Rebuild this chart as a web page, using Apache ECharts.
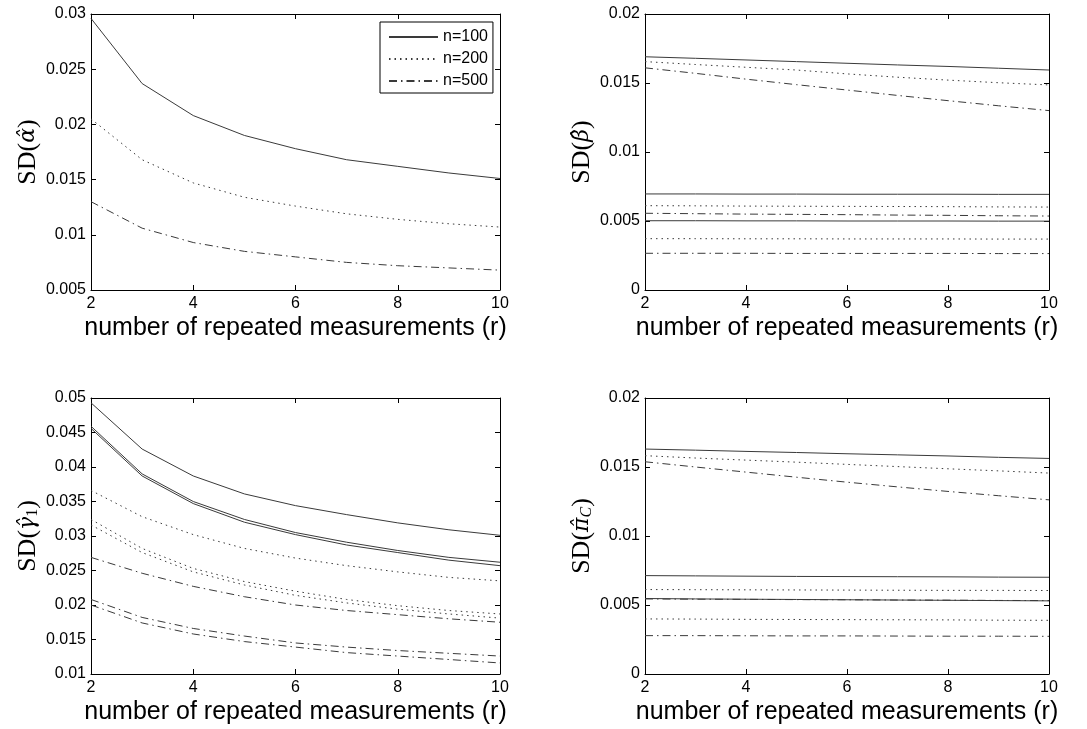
<!DOCTYPE html>
<html>
<head>
<meta charset="utf-8">
<script src="https://cdn.jsdelivr.net/npm/echarts@6/dist/echarts.min.js"></script>
<style>
  html, body { margin: 0; padding: 0; background: #fff; }
  #chart { width: 1087px; height: 729px; }
</style>
</head>
<body>
<div id="chart"></div>
<script>
// number of repeated measurements
const rVals = [2, 3, 4, 5, 6, 7, 8, 9, 10]

// SD(alpha hat)
const alpha100 = [0.0296, 0.0237, 0.0208, 0.0190, 0.0178, 0.0168, 0.0162, 0.0156, 0.0151]
const alpha200 = [0.0205, 0.0168, 0.0147, 0.0134, 0.0126, 0.0119, 0.0114, 0.0110, 0.0107]
const alpha500 = [0.0130, 0.0106, 0.0093, 0.0085, 0.0080, 0.0075, 0.0072, 0.0070, 0.0068]

// SD(beta hat), three coefficients
const beta100a = [0.01690, 0.01679, 0.01667, 0.01655, 0.01643, 0.01631, 0.01620, 0.01607, 0.01594]
const beta200a = [0.01655, 0.01634, 0.01614, 0.01594, 0.01566, 0.01542, 0.01521, 0.01502, 0.01486]
const beta500a = [0.01610, 0.01570, 0.01528, 0.01488, 0.01449, 0.01410, 0.01372, 0.01335, 0.01300]
const beta100b = [0.00696, 0.00696, 0.00695, 0.00695, 0.00694, 0.00694, 0.00694, 0.00693, 0.00693]
const beta200b = [0.00611, 0.00610, 0.00608, 0.00607, 0.00606, 0.00605, 0.00604, 0.00602, 0.00601]
const beta500b = [0.00556, 0.00553, 0.00550, 0.00548, 0.00546, 0.00543, 0.00541, 0.00538, 0.00536]
const beta100c = [0.00502, 0.00502, 0.00501, 0.00501, 0.00500, 0.00500, 0.00500, 0.00499, 0.00499]
const beta200c = [0.00372, 0.00372, 0.00371, 0.00371, 0.00370, 0.00370, 0.00370, 0.00369, 0.00369]
const beta500c = [0.00266, 0.00266, 0.00266, 0.00265, 0.00265, 0.00265, 0.00265, 0.00264, 0.00264]

// SD(gamma1 hat)
const gamma100a = [0.0493, 0.0426, 0.0387, 0.0361, 0.0344, 0.0331, 0.0319, 0.0309, 0.0301]
const gamma100b = [0.0459, 0.0390, 0.0350, 0.0324, 0.0305, 0.0291, 0.0279, 0.0269, 0.0262]
const gamma100c = [0.0456, 0.0387, 0.0347, 0.0320, 0.0302, 0.0287, 0.0276, 0.0265, 0.0257]
const gamma200a = [0.0366, 0.0328, 0.0302, 0.0282, 0.0268, 0.0257, 0.0248, 0.0240, 0.0235]
const gamma200b = [0.0324, 0.0282, 0.0253, 0.0234, 0.0220, 0.0208, 0.0199, 0.0192, 0.0187]
const gamma200c = [0.0316, 0.0276, 0.0248, 0.0229, 0.0214, 0.0203, 0.0194, 0.0187, 0.0181]
const gamma500a = [0.0269, 0.0246, 0.0227, 0.0212, 0.0200, 0.0192, 0.0186, 0.0180, 0.0175]
const gamma500b = [0.0208, 0.0182, 0.0166, 0.0155, 0.0145, 0.0139, 0.0134, 0.0130, 0.0126]
const gamma500c = [0.0200, 0.0174, 0.0158, 0.0147, 0.0139, 0.0131, 0.0126, 0.0121, 0.0116]

// SD(pi_C hat)
const pi100a = [0.01630, 0.01622, 0.01613, 0.01605, 0.01596, 0.01588, 0.01580, 0.01570, 0.01562]
const pi200a = [0.01582, 0.01565, 0.01550, 0.01535, 0.01519, 0.01503, 0.01487, 0.01472, 0.01456]
const pi500a = [0.01538, 0.01500, 0.01463, 0.01426, 0.01390, 0.01356, 0.01323, 0.01292, 0.01262]
const pi100b = [0.00713, 0.00711, 0.00709, 0.00707, 0.00706, 0.00705, 0.00704, 0.00702, 0.00701]
const pi200b = [0.00612, 0.00611, 0.00610, 0.00609, 0.00608, 0.00607, 0.00606, 0.00606, 0.00605]
const pi500b = [0.00544, 0.00542, 0.00541, 0.00539, 0.00538, 0.00536, 0.00535, 0.00533, 0.00532]
const pi100c = [0.00547, 0.00544, 0.00542, 0.00540, 0.00538, 0.00536, 0.00534, 0.00532, 0.00530]
const pi200c = [0.00399, 0.00398, 0.00396, 0.00395, 0.00394, 0.00393, 0.00392, 0.00390, 0.00389]
const pi500c = [0.00278, 0.00278, 0.00277, 0.00276, 0.00276, 0.00275, 0.00274, 0.00274, 0.00273]

const legendNames = ['n=100', 'n=200', 'n=500']
const xTitle = 'number of repeated measurements (r)'

const sans = "'Liberation Sans', Arial, sans-serif"
const serif = "'Liberation Serif', 'DejaVu Serif', serif"
const greekFont = "'DejaVu Serif', serif"
const lineColor = '#3a3a3a'

// solid / dotted / dash-dot like matlab
const dashTypes = ['solid', [1.5, 4], [8, 4, 1.5, 4]]

const grids = [
  { left: 91, top: 14, width: 409, height: 276 },
  { left: 645, top: 14, width: 404, height: 276 },
  { left: 91, top: 398, width: 409, height: 276 },
  { left: 645, top: 398, width: 404, height: 276 }
]

const yRanges = [
  { min: 0.005, max: 0.03, interval: 0.005 },
  { min: 0, max: 0.02, interval: 0.005 },
  { min: 0.01, max: 0.05, interval: 0.005 },
  { min: 0, max: 0.02, interval: 0.005 }
]

const richName = {
  t: { fontFamily: serif, fontSize: 26, color: '#000' },
  g: { fontFamily: greekFont, fontSize: 22, fontStyle: 'italic', color: '#000' },
  s: { fontFamily: serif, fontSize: 16, color: '#000', padding: [10, 0, 0, 0] },
  si: { fontFamily: serif, fontSize: 16, fontStyle: 'italic', color: '#000', padding: [10, 0, 0, 0] }
}

const yNames = [
  '{t|SD(}{g|α̂}{t|)}',
  '{t|SD(}{g|β̂}{t|)}',
  '{t|SD(}{g|γ̂}{s|1}{t|)}',
  '{t|SD(}{g|π̂}{si|C}{t|)}'
]

const panelSeries = [
  [alpha100, alpha200, alpha500],
  [beta100a, beta200a, beta500a, beta100b, beta200b, beta500b, beta100c, beta200c, beta500c],
  [gamma100a, gamma100b, gamma100c, gamma200a, gamma200b, gamma200c, gamma500a, gamma500b, gamma500c],
  [pi100a, pi200a, pi500a, pi100b, pi200b, pi500b, pi100c, pi200c, pi500c]
]
// which style (0 solid, 1 dotted, 2 dash-dot) each series in a panel uses
const panelStyles = [
  [0, 1, 2],
  [0, 1, 2, 0, 1, 2, 0, 1, 2],
  [0, 0, 0, 1, 1, 1, 2, 2, 2],
  [0, 1, 2, 0, 1, 2, 0, 1, 2]
]

const xAxes = []
const yAxes = []
const series = []

grids.forEach((g, i) => {
  const tick = { show: true, inside: true, length: 5, lineStyle: { color: '#000', width: 1 } }
  const line = { show: true, onZero: false, lineStyle: { color: '#000', width: 1 } }
  xAxes.push({
    type: 'value', gridIndex: i, position: 'bottom', min: 2, max: 10, interval: 2,
    axisLine: line, axisTick: tick, splitLine: { show: false },
    axisLabel: { color: '#000', fontFamily: sans, fontSize: 16, margin: 6 },
    name: xTitle, nameLocation: 'middle', nameGap: 26,
    nameTextStyle: { color: '#000', fontFamily: sans, fontSize: 25 }
  })
  xAxes.push({
    type: 'value', gridIndex: i, position: 'top', min: 2, max: 10, interval: 2,
    axisLine: line, axisTick: tick, splitLine: { show: false }, axisLabel: { show: false }
  })
  const yr = yRanges[i]
  yAxes.push({
    type: 'value', gridIndex: i, position: 'left', min: yr.min, max: yr.max, interval: yr.interval,
    axisLine: line, axisTick: tick, splitLine: { show: false },
    axisLabel: { color: '#000', fontFamily: sans, fontSize: 16, margin: 5 },
    name: yNames[i], nameLocation: 'middle', nameGap: 50,
    nameTextStyle: { rich: richName }
  })
  yAxes.push({
    type: 'value', gridIndex: i, position: 'right', min: yr.min, max: yr.max, interval: yr.interval,
    axisLine: line, axisTick: tick, splitLine: { show: false }, axisLabel: { show: false }
  })

  panelSeries[i].forEach((vals, k) => {
    const st = panelStyles[i][k]
    series.push({
      name: legendNames[st],
      type: 'line',
      xAxisIndex: i * 2,
      yAxisIndex: i * 2,
      data: rVals.map((r, j) => [r, vals[j]]),
      symbol: 'none',
      silent: true,
      lineStyle: { color: lineColor, width: 1, type: dashTypes[st] },
      itemStyle: { color: lineColor }
    })
  })
})

const chart = echarts.init(document.getElementById('chart'), null, { renderer: 'canvas' })
chart.setOption({
  animation: false,
  backgroundColor: '#fff',
  grid: grids,
  xAxis: xAxes,
  yAxis: yAxes,
  legend: {
    data: legendNames,
    orient: 'vertical',
    left: 380,
    top: 22,
    itemWidth: 49,
    itemHeight: 14,
    itemGap: 6,
    padding: [7, 5, 4, 8],
    borderColor: '#000',
    borderWidth: 1,
    backgroundColor: '#fff',
    selectedMode: false,
    // hide the marker drawn on the legend line
    itemStyle: { color: 'transparent', borderColor: 'transparent', borderWidth: 0, opacity: 0 },
    textStyle: { color: '#000', fontFamily: sans, fontSize: 16 }
  },
  series: series
})
</script>
</body>
</html>
